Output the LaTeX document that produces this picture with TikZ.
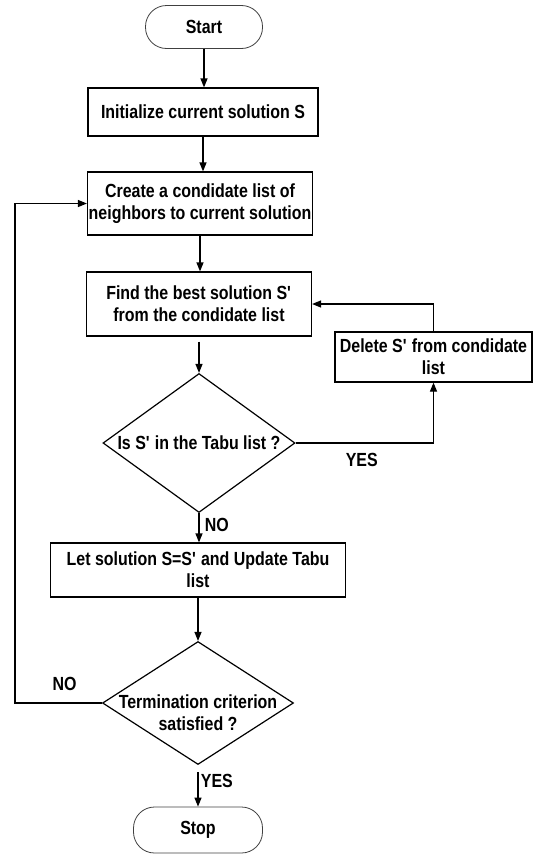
\documentclass[tikz,border=0pt]{standalone}
\usepackage{fontspec}
\setmainfont{Liberation Sans}[FakeStretch=0.84]
\usetikzlibrary{shapes.geometric,arrows.meta}

\begin{document}
\begin{tikzpicture}[x=1pt,y=-1pt,line width=1.2pt,
  font=\fontsize{19}{22}\selectfont\bfseries,
  box/.style={draw,rectangle,inner sep=0pt,align=center},
  terminal/.style={draw=black!75,line width=0.8pt,rectangle,rounded corners=21pt,inner sep=0pt},
  decision/.style={draw,diamond,inner sep=0pt},
  arr/.style={-{Triangle[length=9pt,width=7pt]}}]
  \useasboundingbox (0,0) rectangle (533,854);

  \node[terminal,minimum width=117pt,minimum height=43pt] (start) at (204,27) {Start};
  \node[box,minimum width=230pt,minimum height=48pt] (init) at (203,112) {Initialize current solution S};
  \node[box,minimum width=225pt,minimum height=63pt] (cand) at (200,203.5) {Create a condidate list of\\neighbors to current solution};
  \node[box,minimum width=225pt,minimum height=64pt] (best) at (199,304) {Find the best solution S\textquotesingle\\from the condidate list};
  \node[decision,minimum width=192pt,minimum height=139pt] (tabu) at (199,443) {\makebox[0pt]{Is S\textquotesingle{} in the Tabu list ?}};
  \node[box,minimum width=197pt,minimum height=50pt] (del) at (433.5,357) {Delete S\textquotesingle{} from condidate\\list};
  \node[box,minimum width=295pt,minimum height=54pt] (let) at (198,570) {Let solution S=S\textquotesingle{} and Update Tabu\\list};
  \node[decision,minimum width=191pt,minimum height=123pt] (crit) at (198,703) {\raisebox{-16pt}[0pt][0pt]{\makebox[0pt]{\begin{tabular}{@{}c@{}}Termination criterion\\satisfied ?\end{tabular}}}};
  \node[terminal,minimum width=129pt,minimum height=46pt] (stop) at (198,830) {Stop};

  \draw[arr] (start) -- (start |- init.north);
  \draw[arr] (init.south) -- (init.south |- cand.north);
  \draw[arr] (cand.south) -- (cand.south |- best.north);
  \draw[arr] ([yshift=-5pt]best.south) -- (tabu.north);
  \draw[arr] (tabu.east) -| node[pos=0.24,below=6pt]{YES} (del.south);
  \draw[arr] (del.north) |- (best.east);
  \draw[arr] (tabu.south) -- node[pos=0.4,right=2pt]{NO} (tabu.south |- let.north);
  \draw[arr] (let.south) -- (crit.north);
  \draw[arr] (crit.west) -- node[pos=0.43,above=8pt]{NO} ++(-87,0) |- (cand.west);
  \draw[arr] ([yshift=-7pt]crit.south) -- node[pos=0.25,right=-1pt]{YES} (stop.north);
\end{tikzpicture}
\end{document}
